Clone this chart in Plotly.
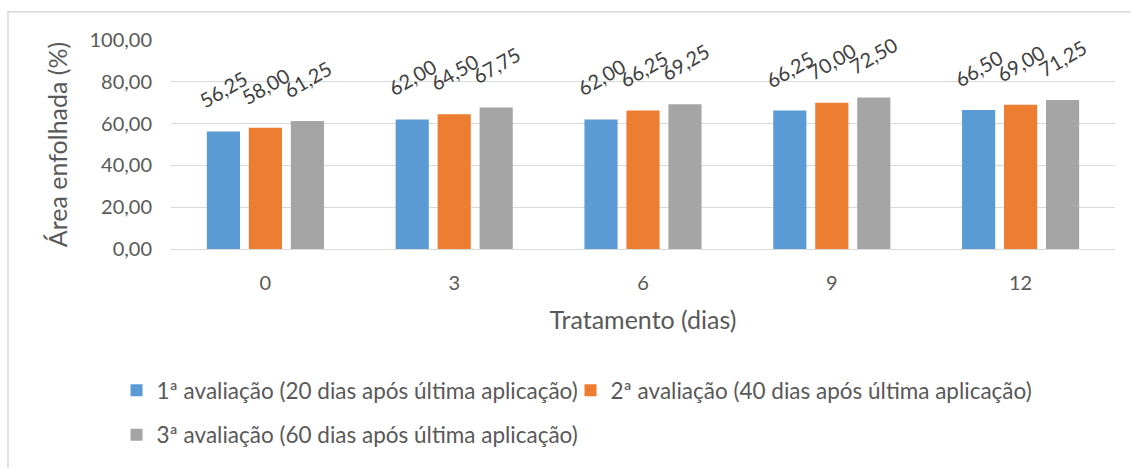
import plotly.graph_objects as go

categories = ["0", "3", "6", "9", "12"]
series_names = [
    "1ª avaliação (20 dias após última aplicação)",
    "2ª avaliação (40 dias após última aplicação)",
    "3ª avaliação (60 dias após última aplicação)",
]
aval1 = [56.25, 62.00, 62.00, 66.25, 66.50]
aval2 = [58.00, 64.50, 66.25, 70.00, 69.00]
aval3 = [61.25, 67.75, 69.25, 72.50, 71.25]
y_ticks = [0, 20, 40, 60, 80, 100]

colors = ["#5B9BD5", "#ED7D31", "#A5A5A5"]
FONT = "Lato"
TXT = "#595959"

fig = go.Figure()
all_series = [aval1, aval2, aval3]
legends = ["legend", "legend2", "legend3"]
for name, vals, col, lg in zip(series_names, all_series, colors, legends):
    fig.add_trace(go.Bar(
        x=categories, y=vals, name=name, marker_color=col,
        marker_line_width=0, legend=lg,
    ))

# data labels (rotated), anchored to each bar's category index and value
shifts = [-42, 0, 42]
for vals, sh in zip(all_series, shifts):
    for i, v in enumerate(vals):
        fig.add_annotation(
            x=i, y=v, xref="x", yref="y",
            text=f"{v:.2f}".replace(".", ","),
            textangle=-30, showarrow=False,
            xanchor="center", yanchor="middle",
            xshift=sh, yshift=42,
            font=dict(family=FONT, size=20, color="#404040"),
        )

# outer chart border
fig.add_shape(type="rect", xref="paper", yref="paper",
              x0=-0.1727, x1=1.2, y0=-1.5, y1=1.1355,
              line=dict(color="#D9D9D9", width=1.5), fillcolor="rgba(0,0,0,0)",
              layer="below")

leg_font = dict(family=FONT, size=22.5, color=TXT)
fig.update_layout(
    width=1131, height=468,
    margin=dict(l=171, r=16, t=40, b=214),
    paper_bgcolor="white", plot_bgcolor="white",
    separators=",.",
    barmode="group", bargap=0.333, bargroupgap=0.21,
    font=dict(family=FONT, color=TXT),
    showlegend=True,
    legend=dict(orientation="h", x=-0.0577, y=-0.678, xanchor="left", yanchor="middle",
                font=leg_font, bgcolor="rgba(0,0,0,0)"),
    legend2=dict(orientation="h", x=0.4232, y=-0.678, xanchor="left", yanchor="middle",
                 font=leg_font, bgcolor="rgba(0,0,0,0)"),
    legend3=dict(orientation="h", x=-0.0577, y=-0.89, xanchor="left", yanchor="middle",
                 font=leg_font, bgcolor="rgba(0,0,0,0)"),
)
fig.update_yaxes(
    range=[0, 100], tickvals=y_ticks, tickformat=".2f",
    showgrid=True, gridcolor="#D9D9D9", gridwidth=1.3,
    zeroline=False, showline=False,
    tickfont=dict(family=FONT, size=20, color=TXT),
    ticklabelstandoff=18,
    title=dict(text="Área enfolhada (%)", font=dict(family=FONT, size=25, color=TXT), standoff=14),
)
fig.update_xaxes(
    type="category", range=[-0.5, 4.5],
    showline=True, linecolor="#D9D9D9", linewidth=1.3,
    tickfont=dict(family=FONT, size=20, color=TXT),
    ticklabelstandoff=16,
    title=dict(text="Tratamento (dias)", font=dict(family=FONT, size=25, color=TXT), standoff=18),
)

fig.write_html(
    "out.html",
    config={"displayModeBar": False},
    post_script="document.body.style.margin='0';document.body.style.overflow='hidden';",
)
